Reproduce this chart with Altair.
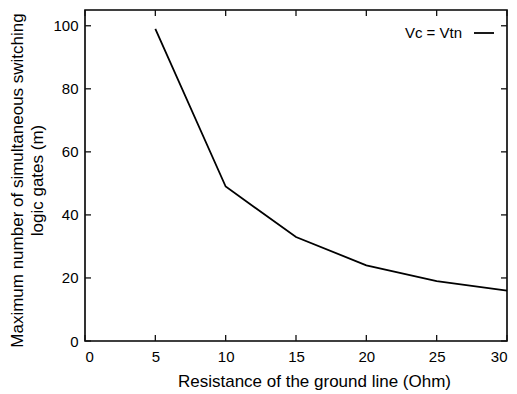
import altair as alt
import pandas as pd

resistance = [5, 10, 15, 20, 25, 30]
gates = [99, 49, 33, 24, 19, 16]
series_name = "Vc = Vtn"

x_ticks = [0, 5, 10, 15, 20, 25, 30]
y_ticks = [0, 20, 40, 60, 80, 100]
x_domain = [0, 30]
y_domain = [0, 105]

df = pd.DataFrame({"r": resistance, "m": gates, "s": [series_name] * len(resistance)})

W, H = 422, 331
FONT = "Liberation Sans"
TL = 6  # tick length in pixels

xscale = alt.Scale(domain=x_domain, nice=False, zero=False)
yscale = alt.Scale(domain=y_domain, nice=False, zero=False)

main = alt.Chart(df).mark_line(strokeWidth=1.8).encode(
    x=alt.X("r:Q", scale=xscale, axis=alt.Axis(
        title="Resistance of the ground line (Ohm)", values=x_ticks, ticks=False, tickSize=0,
        domain=False, grid=False, labelPadding=8, labelFontSize=15, labelFont=FONT,
        labelColor="black", titleFont=FONT, titleFontSize=17, titleFontWeight="normal",
        titleColor="black", titleX=229, titleY=40, titleBaseline="middle", titleAlign="center")),
    y=alt.Y("m:Q", scale=yscale, axis=alt.Axis(
        title=["Maximum number of simultaneous switching", "logic gates (m)"], values=y_ticks,
        ticks=False, tickSize=0, domain=False, grid=False, labelPadding=7, labelFontSize=15,
        labelFont=FONT, labelColor="black", titleFont=FONT, titleFontSize=17,
        titleFontWeight="normal", titleColor="black", titleAngle=270, titleX=-68, titleY=170,
        titleAlign="center", titleBaseline="middle", titleLineHeight=20)),
    stroke=alt.Stroke("s:N", scale=alt.Scale(range=["black"]), legend=alt.Legend(
        title=None, orient="none", legendX=388, legendY=12, symbolType="stroke", symbolSize=400,
        symbolStrokeWidth=1.8, labelAlign="right", labelOffset={"expr": "-33"},
        labelFontSize=15, labelFont=FONT, labelColor="black", padding=0)),
)

xt = pd.DataFrame({"v": x_ticks, "lo": [y_domain[0]] * len(x_ticks), "hi": [y_domain[1]] * len(x_ticks)})
yt = pd.DataFrame({"v": y_ticks, "lo": [x_domain[0]] * len(y_ticks), "hi": [x_domain[1]] * len(y_ticks)})

tick_style = dict(fill="#111111", color="#111111", thickness=1.3, size=TL, opacity=1)

bottom_ticks = alt.Chart(xt).mark_tick(orient="vertical", yOffset=-TL / 2, **tick_style).encode(
    x=alt.X("v:Q", scale=xscale), y=alt.Y("lo:Q", scale=yscale))
top_ticks = alt.Chart(xt).mark_tick(orient="vertical", yOffset=TL / 2, **tick_style).encode(
    x=alt.X("v:Q", scale=xscale), y=alt.Y("hi:Q", scale=yscale))
left_ticks = alt.Chart(yt).mark_tick(orient="horizontal", xOffset=TL / 2, **tick_style).encode(
    y=alt.Y("v:Q", scale=yscale), x=alt.X("lo:Q", scale=xscale))
right_ticks = alt.Chart(yt).mark_tick(orient="horizontal", xOffset=-TL / 2, **tick_style).encode(
    y=alt.Y("v:Q", scale=yscale), x=alt.X("hi:Q", scale=xscale))

chart = alt.layer(main, bottom_ticks, top_ticks, left_ticks, right_ticks).properties(
    width=W, height=H,
    autosize=alt.AutoSizeParams(type="none"),
    padding={"left": 85, "top": 10, "right": 10, "bottom": 53},
    background="white",
).configure_view(stroke="black", strokeWidth=1.6)

chart.save("out.html", embed_options={"renderer": "svg", "actions": False})
